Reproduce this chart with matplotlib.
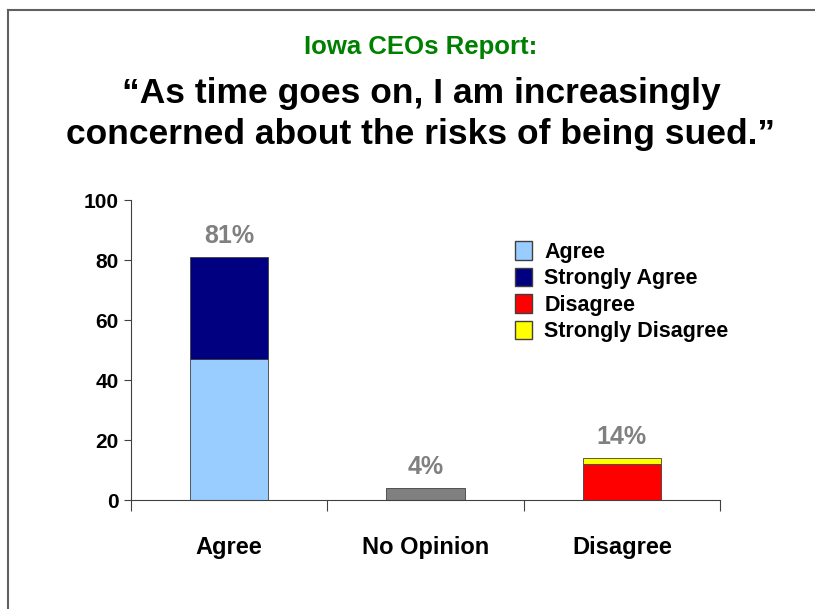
import matplotlib
matplotlib.use("Agg")
import numpy as np
import matplotlib.pyplot as plt
from matplotlib.lines import Line2D
from matplotlib.patches import Patch

categories = ["Agree", "No Opinion", "Disagree"]
agree = [47, 0, 0]
strongly_agree = [34, 0, 0]
no_opinion = [0, 4, 0]
disagree = [0, 0, 12]
strongly_disagree = [0, 0, 2]
totals = [81, 4, 14]
total_labels = ["81%", "4%", "14%"]

plt.rcParams["font.family"] = ["Liberation Sans", "DejaVu Sans"]

fig = plt.figure(figsize=(8.15, 6.09), dpi=100)
ax = fig.add_axes([131/815, 1-500/609, 589/815, 300/609])

x = np.arange(len(categories))
w = 0.4
edge = dict(edgecolor="#404040", linewidth=0.6)
ax.bar(x, agree, w, color="#99CCFF", **edge)
ax.bar(x, strongly_agree, w, bottom=agree, color="#000080", **edge)
ax.bar(x, no_opinion, w, color="#808080", **edge)
ax.bar(x, disagree, w, color="#FF0000", **edge)
ax.bar(x, strongly_disagree, w, bottom=disagree, color="#FFFF00", **edge)
# hide zero-height outlines
for p in ax.patches:
    if p.get_height() == 0:
        p.set_visible(False)

for xi, t, lab in zip(x, totals, total_labels):
    ax.text(xi, t + 3, lab, ha="center", va="bottom", fontsize=18,
            fontweight="bold", color="#808080")

ax.set_xlim(-0.5, 2.5)
ax.set_ylim(0, 100)
ax.set_yticks(range(0, 101, 20))
ax.set_xticks(x)
ax.set_xticklabels(categories)
ax.set_xticks([-0.5, 0.5, 1.5, 2.5], minor=True)
ax.tick_params(axis="x", which="major", length=0, pad=26)
ax.tick_params(axis="x", which="minor", length=8, width=0.8, color="#404040")
ax.tick_params(axis="y", length=5, width=0.8, color="#404040", pad=4)
for lab in ax.get_xticklabels():
    lab.set_fontsize(17)
    lab.set_fontweight("bold")
for lab in ax.get_yticklabels():
    lab.set_fontsize(15)
    lab.set_fontweight("bold")
for s in ["top", "right"]:
    ax.spines[s].set_visible(False)
ax.spines["left"].set_color("#404040")
ax.spines["bottom"].set_color("#404040")

handles = [Patch(facecolor="#99CCFF", edgecolor="#404040", label="Agree"),
           Patch(facecolor="#000080", edgecolor="#404040", label="Strongly Agree"),
           Patch(facecolor="#FF0000", edgecolor="#404040", label="Disagree"),
           Patch(facecolor="#FFFF00", edgecolor="#404040", label="Strongly Disagree")]
leg = fig.legend(handles=handles, loc="upper left", bbox_to_anchor=(496/815, 1-222/609),
                 frameon=False, handlelength=0.75, handleheight=0.95,
                 handletextpad=0.6, labelspacing=0.22,
                 prop={"size": 15.5, "weight": "bold"})

fig.text(421/815, 1-47/609, "Iowa CEOs Report:", ha="center", va="center",
         fontsize=18.5, fontweight="bold", color="#008000")
fig.text(421/815, 1-114/609,
         "\u201cAs time goes on, I am increasingly\nconcerned about the risks of being sued.\u201d",
         ha="center", va="center", fontsize=25.5, fontweight="bold",
         linespacing=1.3)

# slide border
fig.add_artist(Line2D([8/815, 1], [1-10/609, 1-10/609], color="#606060", lw=1.5))
fig.add_artist(Line2D([8/815, 8/815], [0, 1-10/609], color="#606060", lw=1.5))

fig.savefig("out.png", dpi=100)
